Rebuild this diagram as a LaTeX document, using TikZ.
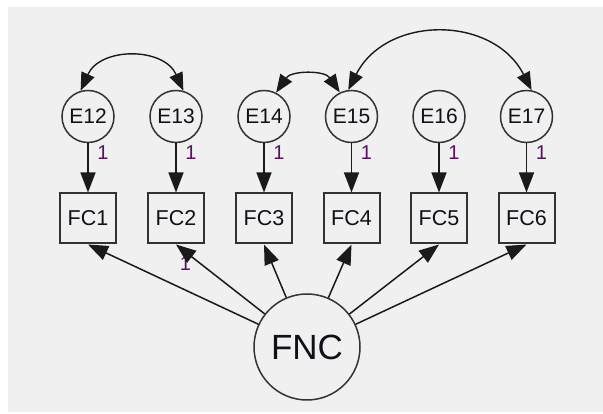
\documentclass[tikz,border=0pt]{standalone}
\usepackage{fontspec}
\setmainfont{Liberation Sans}
\usetikzlibrary{arrows.meta}
\definecolor{canvas}{HTML}{F0F0F0}
\definecolor{ink}{HTML}{333333}
\definecolor{lineink}{HTML}{1A1A1A}
\definecolor{textink}{HTML}{101018}
\definecolor{weight}{HTML}{5A1060}
\begin{document}
\begin{tikzpicture}[x=1pt,y=1pt,
  errvar/.style={circle, draw=ink, line width=1.5pt, minimum size=52pt, inner sep=0pt,
    text=textink, font=\fontsize{21}{24}\selectfont},
  observed/.style={rectangle, draw=ink, line width=2pt, minimum width=56pt, minimum height=50pt,
    inner sep=0pt, text=textink, font=\fontsize{21.5}{25}\selectfont},
  latent/.style={circle, draw=ink, line width=1.5pt, minimum size=106pt, inner sep=0pt,
    text=textink, font=\fontsize{35}{40}\selectfont},
  regpath/.style={draw=lineink, line width=1.5pt, -{Triangle[length=20pt,width=15pt]}},
  covpath/.style={draw=lineink, line width=1.4pt, {Triangle[length=18pt,width=14pt]}-{Triangle[length=18pt,width=14pt]}},
  wt/.style={text=weight, font=\fontsize{20}{22}\selectfont, inner sep=0pt}
]
% canvas
\useasboundingbox (0,0) rectangle (603,414);
\fill[white] (0,0) rectangle (603,414);
\fill[canvas] (8,2) rectangle (603,407);

% error terms
\node[errvar] (e12) at (88,297.5) {E12};
\node[errvar] (e13) at (176,297.5) {E13};
\node[errvar] (e14) at (264,297.5) {E14};
\node[errvar] (e15) at (351.5,297.5) {E15};
\node[errvar] (e16) at (439,297.5) {E16};
\node[errvar] (e17) at (526.5,297.5) {E17};

% observed indicators
\node[observed] (fc1) at (88,195.5) {FC1};
\node[observed] (fc2) at (176,195.5) {FC2};
\node[observed] (fc3) at (264,195.5) {FC3};
\node[observed] (fc4) at (351.5,195.5) {FC4};
\node[observed] (fc5) at (439,195.5) {FC5};
\node[observed] (fc6) at (526.5,195.5) {FC6};

% latent factor
\node[latent] (fnc) at (307,67) {FNC};

% fixed weights
\node[wt] (w1) at (103,261) {1};
\node[wt] (w2) at (191,261) {1};
\node[wt] (w3) at (279,261) {1};
\node[wt] (w4) at (366.5,261) {1};
\node[wt] (w5) at (454,261) {1};
\node[wt] (w6) at (541.5,261) {1};
\node[wt] (w7) at (185.5,150) {1};

% error paths
\foreach \i/\j in {12/1,13/2,14/3,15/4,16/5,17/6}
  \draw[regpath] (e\i) -- (fc\j);

% factor loadings
\foreach \j in {1,...,6}
  \draw[regpath] (fnc) -- (fc\j.south);

% error covariances
\draw[covpath] (e12.106) to[out=66,in=114,looseness=1.2] (e13.74);
\draw[covpath] (e14.63) to[out=56,in=124,looseness=1.08] (e15.116);
\draw[covpath] (e15.97) to[out=63,in=117,looseness=1.18] (e17.79);
\end{tikzpicture}
\end{document}
